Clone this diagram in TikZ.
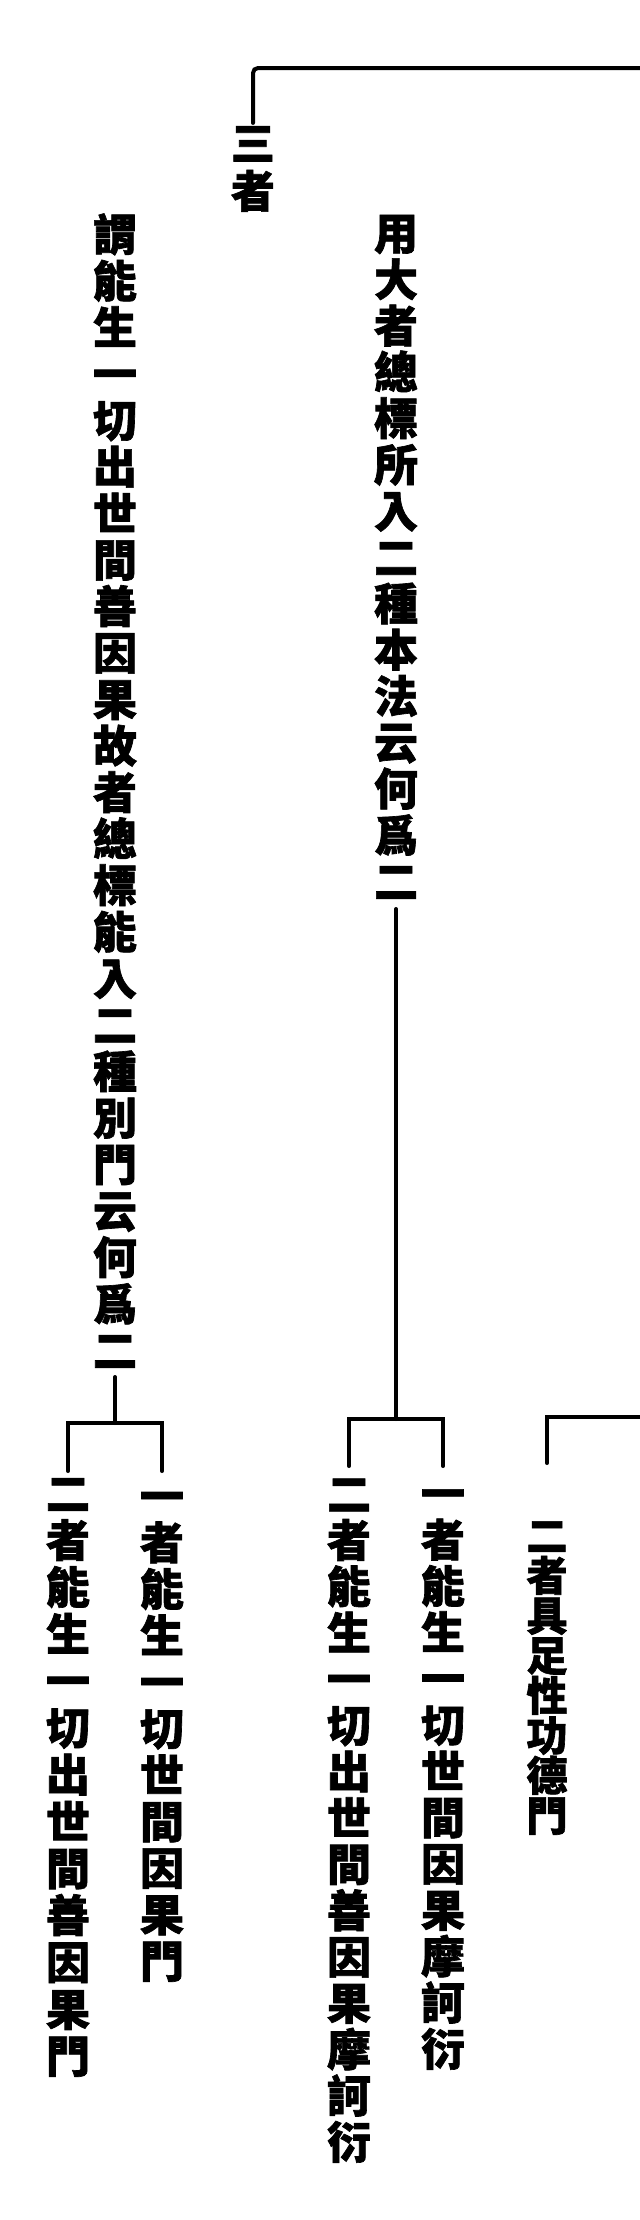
\documentclass[tikz,border=0pt]{standalone}
\usepackage{fontspec}
\newfontfamily\cjk{Noto Sans CJK TC}[BoldFeatures={FakeBold=1.5}]
\def\vcolloop#1{\ifx\relax#1\else\hbox to 1.1em{\hss#1\hss}\expandafter\vcolloop\fi}
\newcommand\vcol[2]{\vbox{\baselineskip=#1\lineskiplimit=-\maxdimen\lineskip=0pt\vcolloop#2\relax}}
\tikzset{
  col/.style={inner sep=0pt, font=\cjk\bfseries\fontsize{44}{44}\selectfont},
  colsm/.style={inner sep=0pt, font=\cjk\bfseries\fontsize{41}{41}\selectfont},
  ln/.style={line width=4pt, line cap=round, black}
}
\begin{document}
\begin{tikzpicture}[x=1pt,y=-1pt]
\useasboundingbox[fill=white] (0,0) rectangle (640,2220);
% text columns
\node[col, anchor=south] (c0) at (253,212) {\vcol{48pt}{三者}};
\node[col, anchor=south] (c1) at (115,1368) {\vcol{46.5pt}{謂能生一切出世間善因果故者總標能入二種別門云何爲二}};
\node[col, anchor=south] (c2) at (396,899) {\vcol{46.3pt}{用大者總標所入二種本法云何爲二}};
\node[col, anchor=south] (c3) at (68,2077) {\vcol{46.9pt}{二者能生一切出世間善因果門}};
\node[col, anchor=south] (c4) at (162,1982) {\vcol{46.5pt}{一者能生一切世間因果門}};
\node[col, anchor=south] (c5) at (349,2163) {\vcol{46.3pt}{二者能生一切出世間善因果摩訶衍}};
\node[col, anchor=south] (c6) at (443,2070) {\vcol{46.3pt}{一者能生一切世間因果摩訶衍}};
\node[colsm, anchor=south] (c7) at (547,1835) {\vcol{40pt}{二者具足性功德門}};
% helper coordinates
\coordinate (tr) at (640,68);
\coordinate (r1) at (640,1417);
\coordinate (e1) at (0,1471);
\coordinate (e2) at (0,1466);
\coordinate (e3) at (0,1463);
\path (c1.south) ++(0,55) coordinate (j1);
\path (c2.south) ++(0,520) coordinate (j2);
% connectors
\draw[ln, rounded corners=5pt] (tr) -| ([yshift=3pt]c0.north);
\draw[ln] ([yshift=-9pt]c1.south) -- (j1);
\draw[ln] (c3.north |- e1) |- (j1) -| (c4.north |- e1);
\draw[ln] ([yshift=-10pt]c2.south) -- (j2);
\draw[ln] (c5.north |- e2) |- (j2) -| (c6.north |- e2);
\draw[ln] (r1) -| (c7.north |- e3);
\end{tikzpicture}
\end{document}
